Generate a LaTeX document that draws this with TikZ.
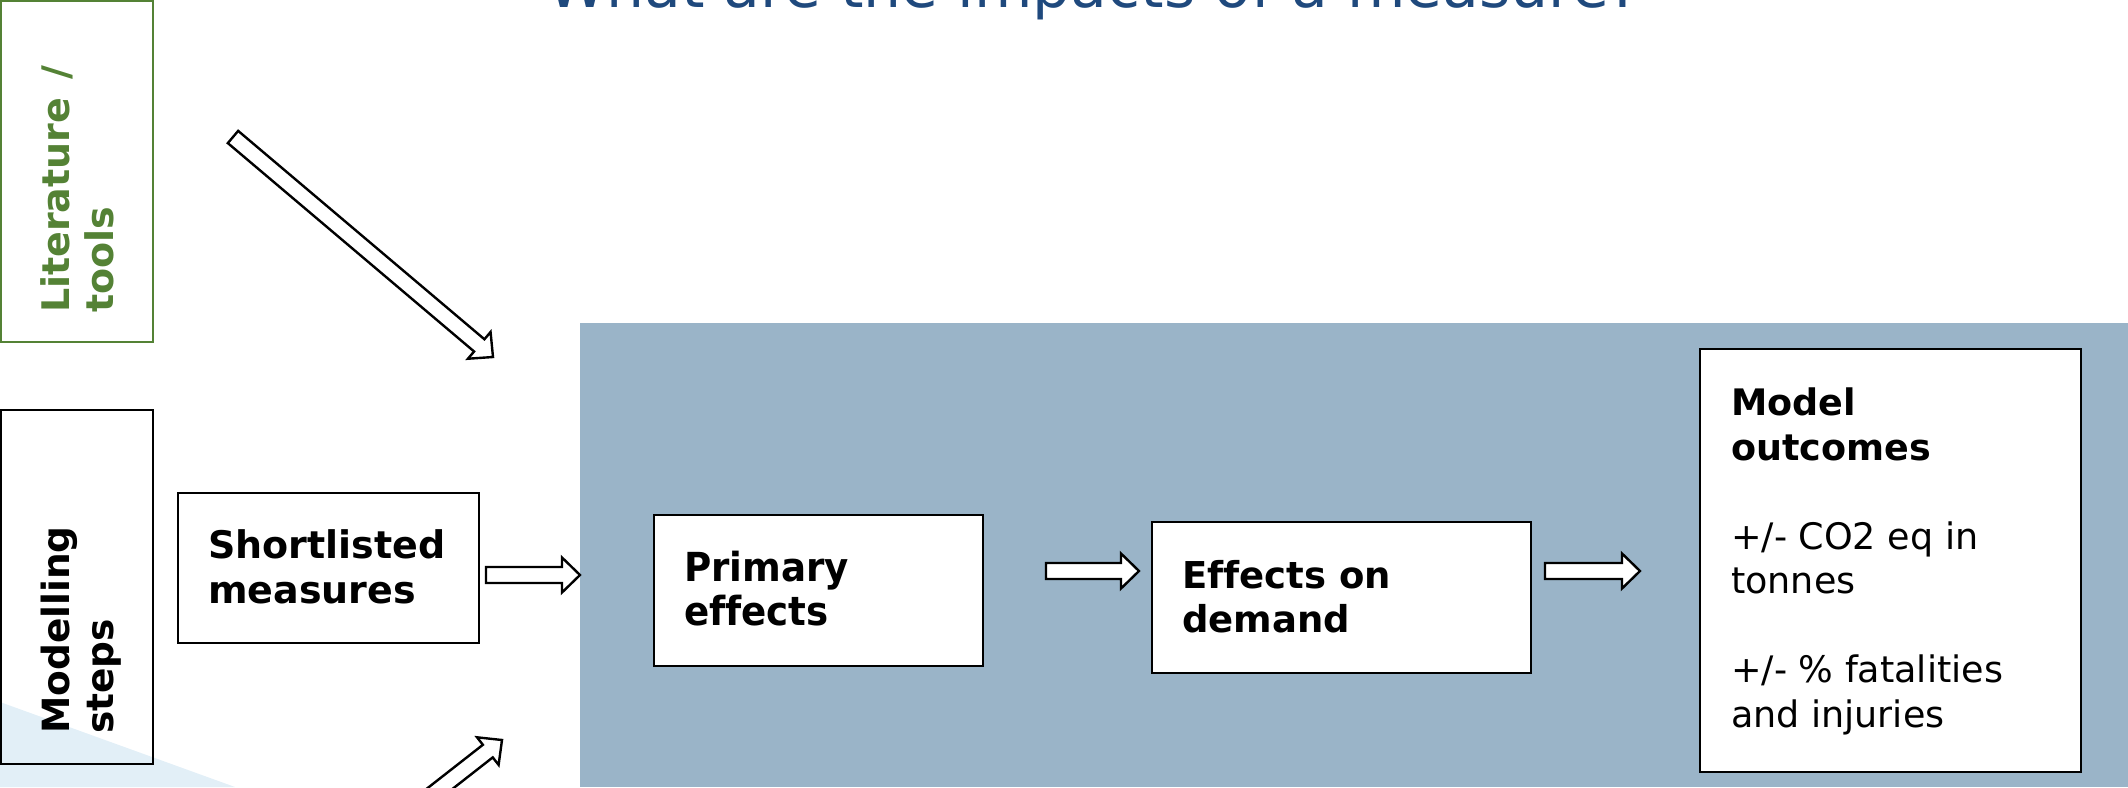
\documentclass[tikz,border=0pt]{standalone}
\usepackage{fontspec}
\setmainfont{DejaVu Sans}[Ligatures=NoCommon]
\usepackage{graphicx}
\usetikzlibrary{calc}

\definecolor{titleblue}{RGB}{31,73,125}
\definecolor{litgreen}{RGB}{84,130,53}
\definecolor{panelblue}{RGB}{154,180,200}
\definecolor{paleblue}{RGB}{226,239,247}

\tikzset{
  x=1pt, y=-1pt,
  box/.style={draw=black, line width=2.2pt, inner sep=0pt},
  whitebox/.style={box, fill=white},
  label/.style={anchor=base west, inner sep=0pt, align=left},
  boldlabel/.style={label, font=\bfseries\fontsize{37}{44}\selectfont},
  arrowbody/.style={draw=black, fill=white, line width=2.4pt, line join=miter},
}

% block arrow from tail coordinate #1 to tip coordinate #2
\newcommand\blockarrow[2]{%
  \coordinate (#2-base) at ($(#2)!18pt!(#1)$);
  \draw[arrowbody]
    ($(#1)!8pt!90:(#2)$) -- ($(#2-base)!8pt!90:(#2)$) --
    ($(#2-base)!17.5pt!90:(#2)$) -- (#2) --
    ($(#2-base)!17.5pt!-90:(#2)$) -- ($(#2-base)!8pt!-90:(#2)$) --
    ($(#1)!8pt!-90:(#2)$) -- cycle;}

\begin{document}
\begin{tikzpicture}
\useasboundingbox (0,0) rectangle (2128,787);
\clip (0,0) rectangle (2128,787);

% pale corner shading
\fill[paleblue] (0,702) -- (235,787) -- (0,787) -- cycle;

% title
\node[anchor=base, inner sep=0pt, text=titleblue,
      font=\fontsize{60}{72}\selectfont] (title) at (1094,8)
  {What are the impacts of a measure?};

% left column
\node[box, draw=litgreen, minimum width=152pt, minimum height=341pt] (lit) at (77,171.5) {};
\node[boldlabel, text=litgreen, rotate=90, font=\bfseries\fontsize{38}{44}\selectfont]
  (littext) at ($(lit.south west)+(70,-30)$)
  {\vtop{\baselineskip=44pt\hbox{Literature \kern5pt/}\hbox{tools}}};

\node[box, minimum width=152pt, minimum height=354pt] (mod) at (77,587) {};
\node[boldlabel, rotate=90, font=\bfseries\fontsize{37.5}{44}\selectfont]
  (modtext) at ($(mod.south west)+(70,-31)$)
  {\vtop{\baselineskip=44pt\hbox{Modelling}\hbox{steps}}};

% first step
\node[box, minimum width=301pt, minimum height=150pt] (short) at (328.5,568) {};
\node[boldlabel, font=\bfseries\fontsize{38}{45}\selectfont] (shorttext)
  at ($(short.north west)+(31,67)$)
  {\vtop{\baselineskip=45pt\hbox{Shortlisted}\hbox{measures}}};

% model panel
\node[fill=panelblue, inner sep=0pt, anchor=north west,
      minimum width=1548pt, minimum height=464pt] (panel) at (580,323) {};

\node[whitebox, minimum width=329pt, minimum height=151pt] (prim) at (818.5,590.5) {};
\node[label, font=\bfseries\fontsize{40}{44}\selectfont] (primtext)
  at ($(prim.north west)+(31,68)$)
  {\scalebox{0.93}[1]{\vtop{\baselineskip=44pt\hbox{Primary}\hbox{effects}}}};

\node[whitebox, minimum width=379pt, minimum height=151pt] (dem) at (1341.5,597.5) {};
\node[boldlabel] (demtext) at ($(dem.north west)+(31,68)$)
  {\vtop{\baselineskip=44pt\hbox{Effects on}\hbox{demand}}};

\node[whitebox, minimum width=381pt, minimum height=423pt] (out) at (1890.5,560.5) {};
\node[label, font=\fontsize{36.5}{44.5}\selectfont] (outtext)
  at ($(out.north west)+(32,68)$)
  {\vtop{\baselineskip=44.5pt
    \hbox{\bfseries Model}\hbox{\bfseries outcomes}\hbox{}
    \hbox{+/- CO2 eq in}\hbox{tonnes}\hbox{}
    \hbox{+/- \% fatalities}\hbox{and injuries}}};

% arrows
\coordinate (a1t) at (233,137);
\coordinate (a1h) at (493,357);
\blockarrow{a1t}{a1h}

\coordinate (a5t) at (240,945);
\coordinate (a5h) at (502,740);
\blockarrow{a5t}{a5h}

\coordinate (a2t) at (486,575);
\coordinate (a2h) at (a2t -| panel.west);
\blockarrow{a2t}{a2h}

\coordinate (a3t) at (1046,571);
\coordinate (a3h) at (1139,571);
\blockarrow{a3t}{a3h}

\coordinate (a4t) at (1545,571);
\coordinate (a4h) at (1640,571);
\blockarrow{a4t}{a4h}
\end{tikzpicture}
\end{document}
